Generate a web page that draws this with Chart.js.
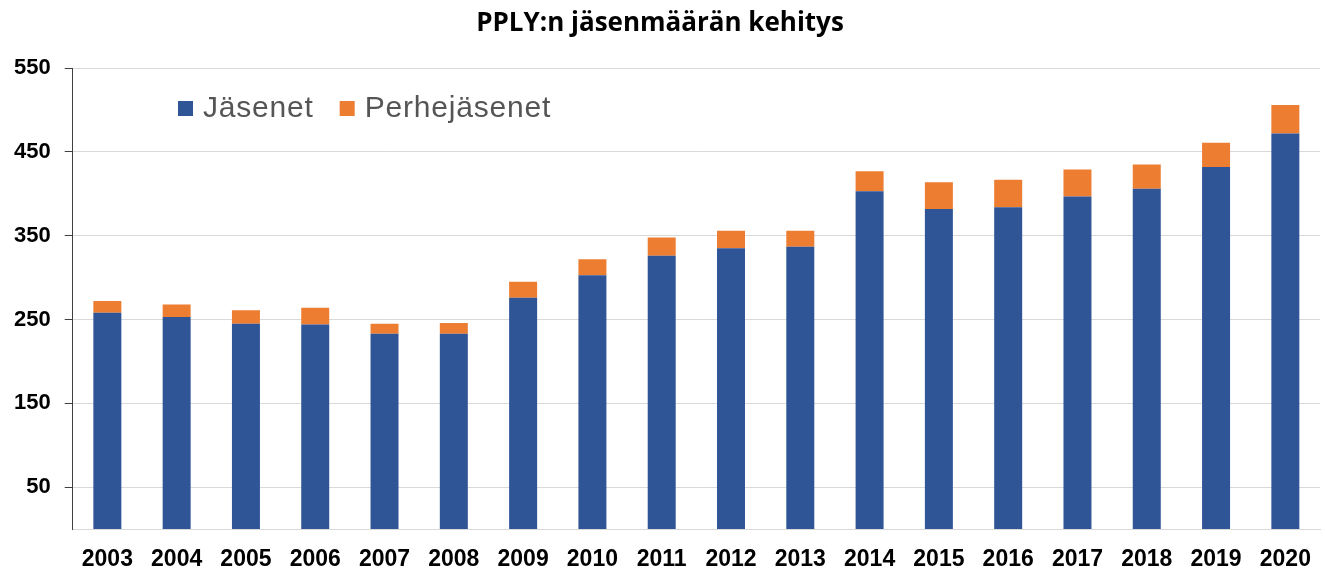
<!DOCTYPE html>
<html>
<head>
<meta charset="utf-8">
<script src="https://cdn.jsdelivr.net/npm/chart.js@4/dist/chart.umd.min.js"></script>
<style>
  html, body { margin: 0; padding: 0; background: #fff; }
  #wrap { width: 1325px; height: 571px; }
</style>
</head>
<body>
<div id="wrap"><canvas id="chart1"></canvas></div>
<script>
var years = ['2003', '2004', '2005', '2006', '2007', '2008', '2009', '2010', '2011',
             '2012', '2013', '2014', '2015', '2016', '2017', '2018', '2019', '2020'];
var jasenet = [258, 253, 245, 244, 233, 233, 276, 303, 326, 335, 337, 403, 382, 384, 397, 406, 432, 472];
var perhejasenet = [14, 15, 16, 20, 12, 13, 19, 19, 22, 21, 19, 24, 32, 33, 32, 29, 29, 34];
var yTicks = [50, 150, 250, 350, 450, 550];

// legenda piirretään kuvaajan sisään, kuten alkuperäisessä
var innerLegend = {
    id: 'innerLegend',
    afterDraw: function(chart) {
        var ctx = chart.ctx;
        var x = 178;
        var y = 109;
        ctx.save();
        ctx.font = '30px "Liberation Sans", Arial, sans-serif';
        ctx.letterSpacing = '0.8px';
        ctx.textBaseline = 'middle';
        ctx.textAlign = 'left';
        chart.data.datasets.forEach(function(ds) {
            ctx.fillStyle = ds.backgroundColor;
            ctx.fillRect(x, y - 8, 15, 15);
            ctx.fillStyle = '#555555';
            ctx.fillText(ds.label, x + 25, y);
            x = x + 25 + ctx.measureText(ds.label).width + 26;
        });
        ctx.restore();
    }
};

function makeChart() {
    var ctx1 = document.getElementById('chart1').getContext('2d');
    var chart1 = new Chart(ctx1, {
        type: 'bar',
        data: {
            labels: years,
            datasets: [{
                label: 'Jäsenet',
                data: jasenet,
                backgroundColor: '#2F5597',
                categoryPercentage: 1,
                barPercentage: 0.404
            }, {
                label: 'Perhejäsenet',
                data: perhejasenet,
                backgroundColor: '#ED7D31',
                categoryPercentage: 1,
                barPercentage: 0.404
            }]
        },
        options: {
            responsive: true,
            maintainAspectRatio: false,
            animation: false,
            layout: { padding: { left: 0, right: 5, top: 0, bottom: 0 } },
            plugins: {
                legend: { display: false },
                tooltip: { enabled: false },
                title: {
                    display: true,
                    text: 'PPLY:n jäsenmäärän kehitys',
                    color: '#000',
                    font: { family: '"Open Sans", sans-serif', size: 26, weight: 'bold', lineHeight: 1.2 },
                    padding: { top: 8, bottom: 29 }
                }
            },
            scales: {
                x: {
                    stacked: true,
                    // tickLength toimii tässä vain etäisyytenä akselista nimikkeisiin
                    grid: { display: false, drawTicks: true, tickLength: 19 },
                    border: { display: true, color: '#d9d9d9', width: 1 },
                    ticks: {
                        color: '#000',
                        padding: 0,
                        maxRotation: 0,
                        font: { family: '"Liberation Sans", Arial, sans-serif', size: 23, weight: 'bold', lineHeight: 1 }
                    }
                },
                y: {
                    stacked: true,
                    min: 0,
                    max: 550,
                    afterBuildTicks: function(axis) {
                        axis.ticks = yTicks.map(function(v) { return { value: v }; });
                    },
                    grid: { color: '#d9d9d9', tickColor: '#404040', tickLength: 8, lineWidth: 1 },
                    border: { display: true, color: '#404040', width: 1 },
                    ticks: {
                        color: '#000',
                        padding: 14,
                        font: { family: '"Liberation Sans", Arial, sans-serif', size: 22, weight: 'bold' }
                    }
                }
            }
        },
        plugins: [innerLegend]
    });
}

window.onload = function() {
    makeChart();
};
</script>
</body>
</html>
